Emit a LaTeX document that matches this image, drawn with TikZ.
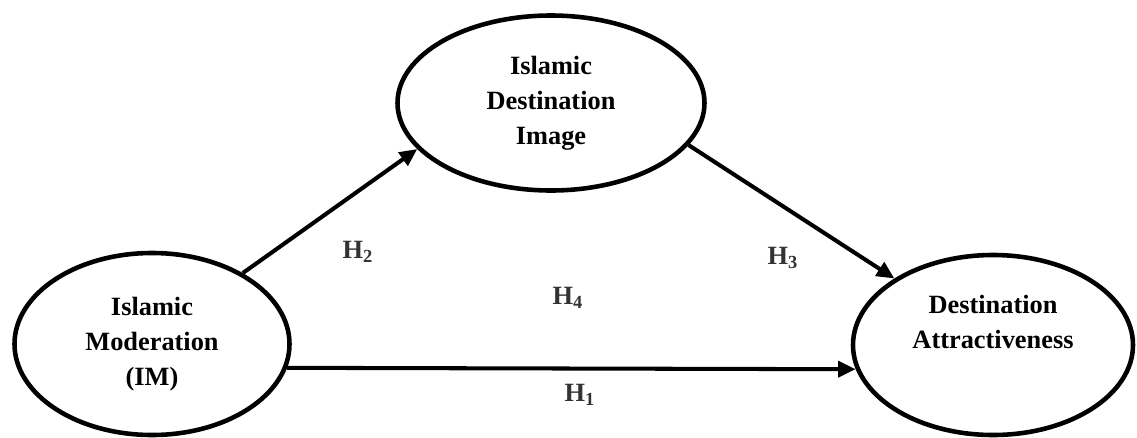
\documentclass[tikz,border=0pt]{standalone}
\usepackage{fontspec}
\setmainfont{Liberation Serif}
\usepackage{tikz}
\usetikzlibrary{arrows.meta,positioning,shapes.geometric}

\begin{document}
\begin{tikzpicture}[
    construct/.style={ellipse, draw, line width=2.6pt, inner sep=0pt, align=center,
        font=\fontsize{15}{20}\selectfont\bfseries},
    path/.style={line width=2.3pt, -{Triangle[length=10pt,width=9pt]}},
    hyp/.style={font=\fontsize{15}{17}\selectfont\bfseries, text=black!80}
]
\useasboundingbox (0,0) rectangle (22.74,-8.74);

% Constructs
\node[construct, minimum width=5.5cm, minimum height=3.64cm] (im) at (3.04, -6.88) {Islamic\\Moderation\\(IM)};
\node[construct, minimum width=6.14cm, minimum height=3.5cm] (idi) at (11.02, -2.06) {Islamic\\Destination\\Image};
\node[construct, minimum width=5.6cm, minimum height=3.6cm] (da) at (19.86, -6.9) {Destination\\Attractiveness\\\strut};

% Paths
\draw[path] (im.38) -- (idi.199);
\draw[path] (idi.-17) -- (da.146);
\draw[path] (im.-10) -- (da.190);

% Hypotheses
\node[hyp] (h2) at (7.16, -5.04) {H\textsubscript{2}};
\node[hyp] (h3) at (15.66, -5.16) {H\textsubscript{3}};
\node[hyp] (h4) at (11.36, -5.96) {H\textsubscript{4}};
\node[hyp] (h1) at (11.6, -7.9) {H\textsubscript{1}};

\end{tikzpicture}
\end{document}
